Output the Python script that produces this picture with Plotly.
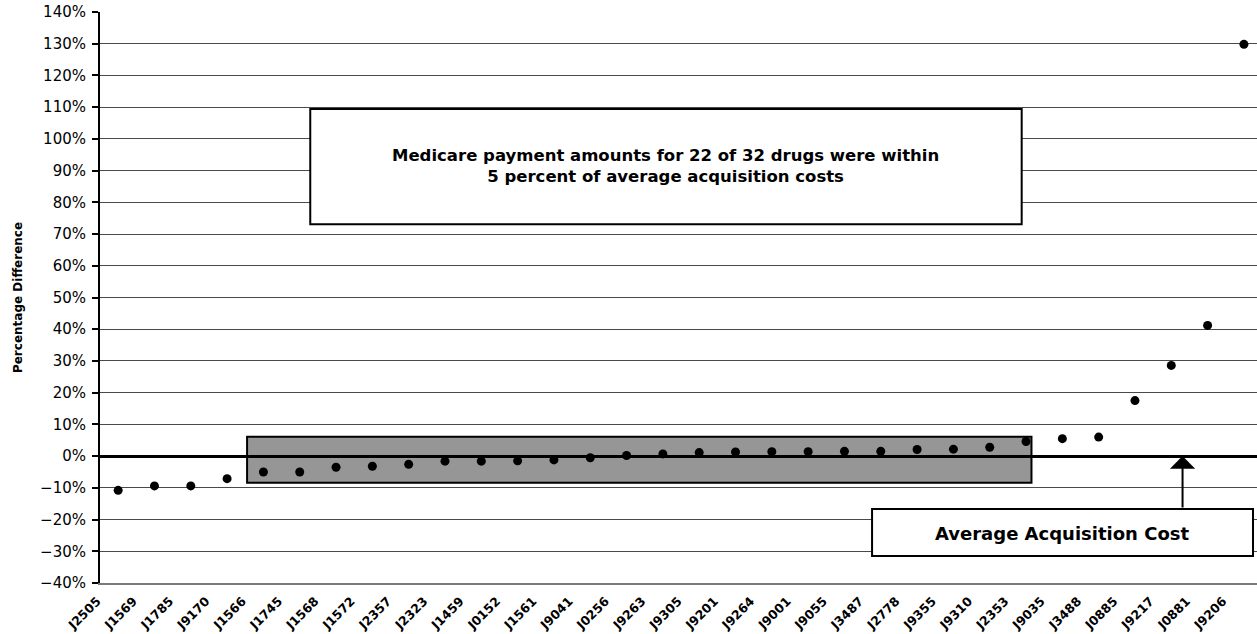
import plotly.graph_objects as go

# ---- data ----
drug_codes = ["J2505", "J1569", "J1785", "J9170", "J1566", "J1745", "J1568", "J1572",
              "J2357", "J2323", "J1459", "J0152", "J1561", "J9041", "J0256", "J9263",
              "J9305", "J9201", "J9264", "J9001", "J9055", "J3487", "J2778", "J9355",
              "J9310", "J2353", "J9035", "J3488", "J0885", "J9217", "J0881", "J9206"]
pct_diff = [-10.8, -9.4, -9.4, -7.1, -5.0, -5.0, -3.5, -3.2,
            -2.6, -1.6, -1.6, -1.5, -1.2, -0.5, 0.2, 0.7,
            1.1, 1.3, 1.4, 1.4, 1.5, 1.5, 2.1, 2.2,
            2.8, 4.6, 5.5, 6.0, 17.5, 28.6, 41.2, 129.8]

y_min, y_max, y_step = -40, 140, 10

title_lines = ["Medicare payment amounts for 22 of 32 drugs were within",
               "5 percent of average acquisition costs"]
ref_label = "Average Acquisition Cost"
y_title = "Percentage Difference"

FONT = "DejaVu Sans"

fig = go.Figure()
fig.add_trace(go.Scatter(
    x=drug_codes, y=pct_diff, mode="markers",
    marker=dict(color="black", size=9, line=dict(width=0)),
    cliponaxis=False, hoverinfo="x+y"))

shapes = [
    # shaded "within 5 percent" band
    dict(type="rect", xref="x", yref="y", x0=3.55, x1=25.15, y0=-8.4, y1=6.1,
         fillcolor="#969696", line=dict(color="black", width=2), layer="below"),
    # headline box
    dict(type="rect", xref="x", yref="y", x0=5.29, x1=24.88, y0=73.1, y1=109.4,
         fillcolor="white", line=dict(color="black", width=2), layer="above"),
    # average acquisition cost box
    dict(type="rect", xref="x", yref="y", x0=20.76, x1=31.25, y0=-31.5, y1=-16.7,
         fillcolor="white", line=dict(color="black", width=2), layer="above"),
]

annotations = [
    dict(x=15.06, y=91.6, xref="x", yref="y",
         text="<b>%s</b><br><b>%s</b>" % (title_lines[0], title_lines[1]),
         showarrow=False, align="center",
         font=dict(family=FONT, size=16.5, color="black")),
    dict(x=26.0, y=-24.4, xref="x", yref="y", text="<b>%s</b>" % ref_label,
         showarrow=False, font=dict(family=FONT, size=18, color="black")),
    dict(x=29.31, y=0, xref="x", yref="y", ax=29.31, ay=-16.7, axref="x", ayref="y",
         text="", showarrow=True, arrowhead=1, arrowsize=2.1, arrowwidth=2,
         arrowcolor="black", standoff=0, startstandoff=0),
]

fig.update_layout(
    width=1257, height=634,
    margin=dict(l=100, r=0, t=12, b=51, autoexpand=False),
    paper_bgcolor="white", plot_bgcolor="white",
    showlegend=False,
    shapes=shapes, annotations=annotations,
    xaxis=dict(
        type="category", range=[-0.5, 31.36], automargin=False,
        showgrid=False, zeroline=False,
        showline=True, linecolor="#7a7a7a", linewidth=2,
        ticks="", tickangle=-45,
        tickfont=dict(family=FONT, size=12.5, color="black", weight="bold"),
        ticklabelshift=-21, ticklabelstandoff=4,
    ),
    yaxis=dict(
        range=[y_min, y_max], dtick=y_step, tick0=0, ticksuffix="%",
        automargin=False,
        showgrid=True, gridcolor="#4a4a4a", gridwidth=1,
        zeroline=True, zerolinecolor="black", zerolinewidth=2.5,
        showline=True, linecolor="black", linewidth=2,
        ticks="outside", ticklen=6, tickwidth=1.5, tickcolor="black",
        tickfont=dict(family=FONT, size=15, color="black"),
        ticklabelstandoff=3,
        title=dict(text=y_title, standoff=15,
                   font=dict(family=FONT, size=12, color="black", weight="bold")),
    ),
)

fig.write_html("out.html")
